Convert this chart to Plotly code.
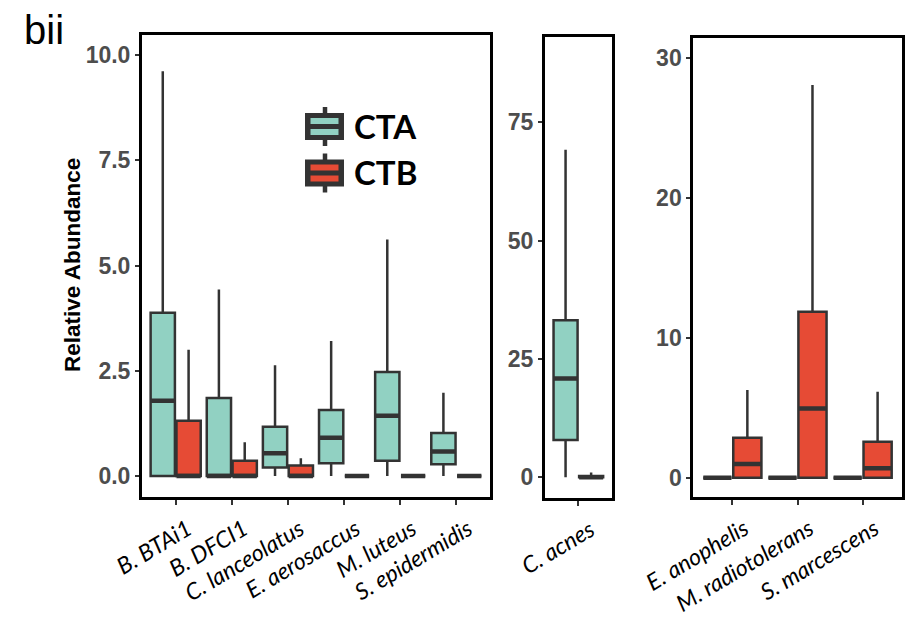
import plotly.graph_objects as go

W, H = 909, 627

# ---------------- data ----------------
left_cats = ["B. BTAi1", "B. DFCI1", "C. lanceolatus", "E. aerosaccus", "M. luteus", "S. epidermidis"]
left_cta_low = [0, 0, 0, 0, 0, 0]
left_cta_q1 = [0, 0, 0.20, 0.30, 0.36, 0.28]
left_cta_med = [1.79, 0, 0.54, 0.91, 1.43, 0.58]
left_cta_q3 = [3.88, 1.85, 1.17, 1.57, 2.47, 1.02]
left_cta_up = [9.62, 4.43, 2.63, 3.21, 5.62, 1.98]
left_ctb_low = [0, 0, 0, 0, 0, 0]
left_ctb_q1 = [0, 0, 0, 0, 0, 0]
left_ctb_med = [0, 0, 0, 0, 0, 0]
left_ctb_q3 = [1.31, 0.36, 0.25, 0, 0, 0]
left_ctb_up = [3.0, 0.80, 0.42, 0, 0, 0]

mid_cats = ["C. acnes"]
mid_cta_low = [0]
mid_cta_q1 = [7.9]
mid_cta_med = [20.9]
mid_cta_q3 = [33.2]
mid_cta_up = [69.2]
mid_ctb_low = [0]
mid_ctb_q1 = [0]
mid_ctb_med = [0]
mid_ctb_q3 = [0.3]
mid_ctb_up = [1.0]

right_cats = ["E. anophelis", "M. radiotolerans", "S. marcescens"]
right_cta_low = [0, 0, 0]
right_cta_q1 = [0, 0, 0]
right_cta_med = [0, 0, 0]
right_cta_q3 = [0, 0, 0]
right_cta_up = [0, 0, 0]
right_ctb_low = [0, 0, 0]
right_ctb_q1 = [0, 0, 0]
right_ctb_med = [0.98, 4.95, 0.67]
right_ctb_q3 = [2.86, 11.86, 2.57]
right_ctb_up = [6.26, 28.05, 6.14]

left_ticks = [0, 2.5, 5, 7.5, 10]
left_ticktext = ["0.0", "2.5", "5.0", "7.5", "10.0"]
mid_ticks = [0, 25, 50, 75]
mid_ticktext = ["0", "25", "50", "75"]
right_ticks = [0, 10, 20, 30]
right_ticktext = ["0", "10", "20", "30"]

series_names = ["CTA", "CTB"]
TEAL = "#91D1C2"
RED = "#E64B35"
EDGE = "#333333"

fig = go.Figure()


def add_boxes(cats, low, q1, med, q3, up, name, color, xa, ya):
    fig.add_trace(go.Box(
        x=cats, lowerfence=low, q1=q1, median=med, q3=q3, upperfence=up,
        name=name, fillcolor=color, line=dict(color=EDGE, width=2.5),
        offsetgroup=name, xaxis=xa, yaxis=ya, showlegend=False,
        boxpoints=False, whiskerwidth=0, hoverinfo="skip"))
    # thicker median bar (ggplot "fatten")
    fig.add_trace(go.Box(
        x=cats, lowerfence=med, q1=med, median=med, q3=med, upperfence=med,
        name=name + " median", fillcolor=EDGE, line=dict(color=EDGE, width=4.5),
        offsetgroup=name, xaxis=xa, yaxis=ya, showlegend=False,
        boxpoints=False, whiskerwidth=0, hoverinfo="skip"))


add_boxes(left_cats, left_cta_low, left_cta_q1, left_cta_med, left_cta_q3, left_cta_up, "CTA", TEAL, "x", "y")
add_boxes(left_cats, left_ctb_low, left_ctb_q1, left_ctb_med, left_ctb_q3, left_ctb_up, "CTB", RED, "x", "y")
add_boxes(mid_cats, mid_cta_low, mid_cta_q1, mid_cta_med, mid_cta_q3, mid_cta_up, "CTA", TEAL, "x2", "y2")
add_boxes(mid_cats, mid_ctb_low, mid_ctb_q1, mid_ctb_med, mid_ctb_q3, mid_ctb_up, "CTB", RED, "x2", "y2")
add_boxes(right_cats, right_cta_low, right_cta_q1, right_cta_med, right_cta_q3, right_cta_up, "CTA", TEAL, "x3", "y3")
add_boxes(right_cats, right_ctb_low, right_ctb_q1, right_ctb_med, right_ctb_q3, right_ctb_up, "CTB", RED, "x3", "y3")


def px_x(v):
    return v / W


def px_y(v):
    return 1 - v / H


def xaxis_cfg(x0, x1, cats, anchor):
    return dict(
        domain=[px_x(x0), px_x(x1)], anchor=anchor,
        type="category", categoryorder="array", categoryarray=cats,
        range=[-0.6, len(cats) - 0.4],
        showline=True, mirror=True, linecolor="black", linewidth=3,
        ticks="outside", ticklen=5, tickwidth=1.5, tickcolor=EDGE,
        tickangle=-31, ticklabelshift=12, ticklabelstandoff=2,
        showgrid=False, zeroline=False, automargin=False,
        tickfont=dict(family="Lato, Open Sans, sans-serif", size=23, color="black", style="italic"),
    )


def yaxis_cfg(y0, y1, rng, tv, tt, anchor):
    return dict(
        domain=[px_y(y1), px_y(y0)], anchor=anchor, range=rng,
        tickvals=tv, ticktext=tt,
        showline=True, mirror=True, linecolor="black", linewidth=3,
        ticks="outside", ticklen=4, tickwidth=1.5, tickcolor=EDGE,
        showgrid=False, zeroline=False, automargin=False,
        tickfont=dict(family="Liberation Sans, Arial, sans-serif", size=23, color="#4D4D4D", weight="bold"),
    )


shapes = []


def legend_key(cy, color):
    x0, x1 = 305, 344
    cx = 325
    shapes.append(dict(type="line", xref="paper", yref="paper",
                       x0=px_x(cx), x1=px_x(cx), y0=px_y(cy - 19.5), y1=px_y(cy + 19.5),
                       line=dict(color=EDGE, width=4.5)))
    shapes.append(dict(type="rect", xref="paper", yref="paper",
                       x0=px_x(x0), x1=px_x(x1), y0=px_y(cy - 13.5), y1=px_y(cy + 13.5),
                       fillcolor=EDGE, line=dict(width=0)))
    shapes.append(dict(type="rect", xref="paper", yref="paper",
                       x0=px_x(x0 + 5.5), x1=px_x(x1 - 5.5), y0=px_y(cy - 8.5), y1=px_y(cy - 2.5),
                       fillcolor=color, line=dict(width=0)))
    shapes.append(dict(type="rect", xref="paper", yref="paper",
                       x0=px_x(x0 + 5.5), x1=px_x(x1 - 5.5), y0=px_y(cy + 2.5), y1=px_y(cy + 8.5),
                       fillcolor=color, line=dict(width=0)))


legend_key(126.5, TEAL)
legend_key(173, RED)

annotations = [
    dict(text="bii", x=px_x(22), y=px_y(30), xref="paper", yref="paper",
         xanchor="left", yanchor="middle", showarrow=False,
         font=dict(family="Liberation Sans, Arial, sans-serif", size=40, color="black")),
    dict(text="Relative Abundance", x=px_x(72), y=px_y(265), xref="paper", yref="paper",
         xanchor="center", yanchor="middle", showarrow=False, textangle=-90,
         font=dict(family="Liberation Sans, Arial, sans-serif", size=22.5, color="black", weight="bold")),
    dict(text=series_names[0], x=px_x(352), y=px_y(126), xref="paper", yref="paper",
         xanchor="left", yanchor="middle", showarrow=False,
         font=dict(family="Lato, Open Sans, sans-serif", size=33, color="black", weight="bold")),
    dict(text=series_names[1], x=px_x(352), y=px_y(172), xref="paper", yref="paper",
         xanchor="left", yanchor="middle", showarrow=False,
         font=dict(family="Lato, Open Sans, sans-serif", size=33, color="black", weight="bold")),
]

fig.update_layout(
    width=W, height=H, template="none",
    margin=dict(l=0, r=0, t=0, b=0),
    paper_bgcolor="white", plot_bgcolor="white",
    boxmode="group", boxgap=0.08, boxgroupgap=0.06,
    showlegend=False,
    xaxis=xaxis_cfg(142, 490, left_cats, "y"),
    yaxis=yaxis_cfg(35, 497, [-0.5, 10.48], left_ticks, left_ticktext, "x"),
    xaxis2=xaxis_cfg(545, 611.7, mid_cats, "y2"),
    yaxis2=yaxis_cfg(36.7, 498, [-4.37, 93.09], mid_ticks, mid_ticktext, "x2"),
    xaxis3=xaxis_cfg(693.3, 901.7, right_cats, "y3"),
    yaxis3=yaxis_cfg(38.3, 496.7, [-1.36, 31.39], right_ticks, right_ticktext, "x3"),
    shapes=shapes,
    annotations=annotations,
)

fig.write_html("out.html", config={"displayModeBar": False},
               post_script="document.body.style.margin='0px';document.body.style.overflow='hidden';")
